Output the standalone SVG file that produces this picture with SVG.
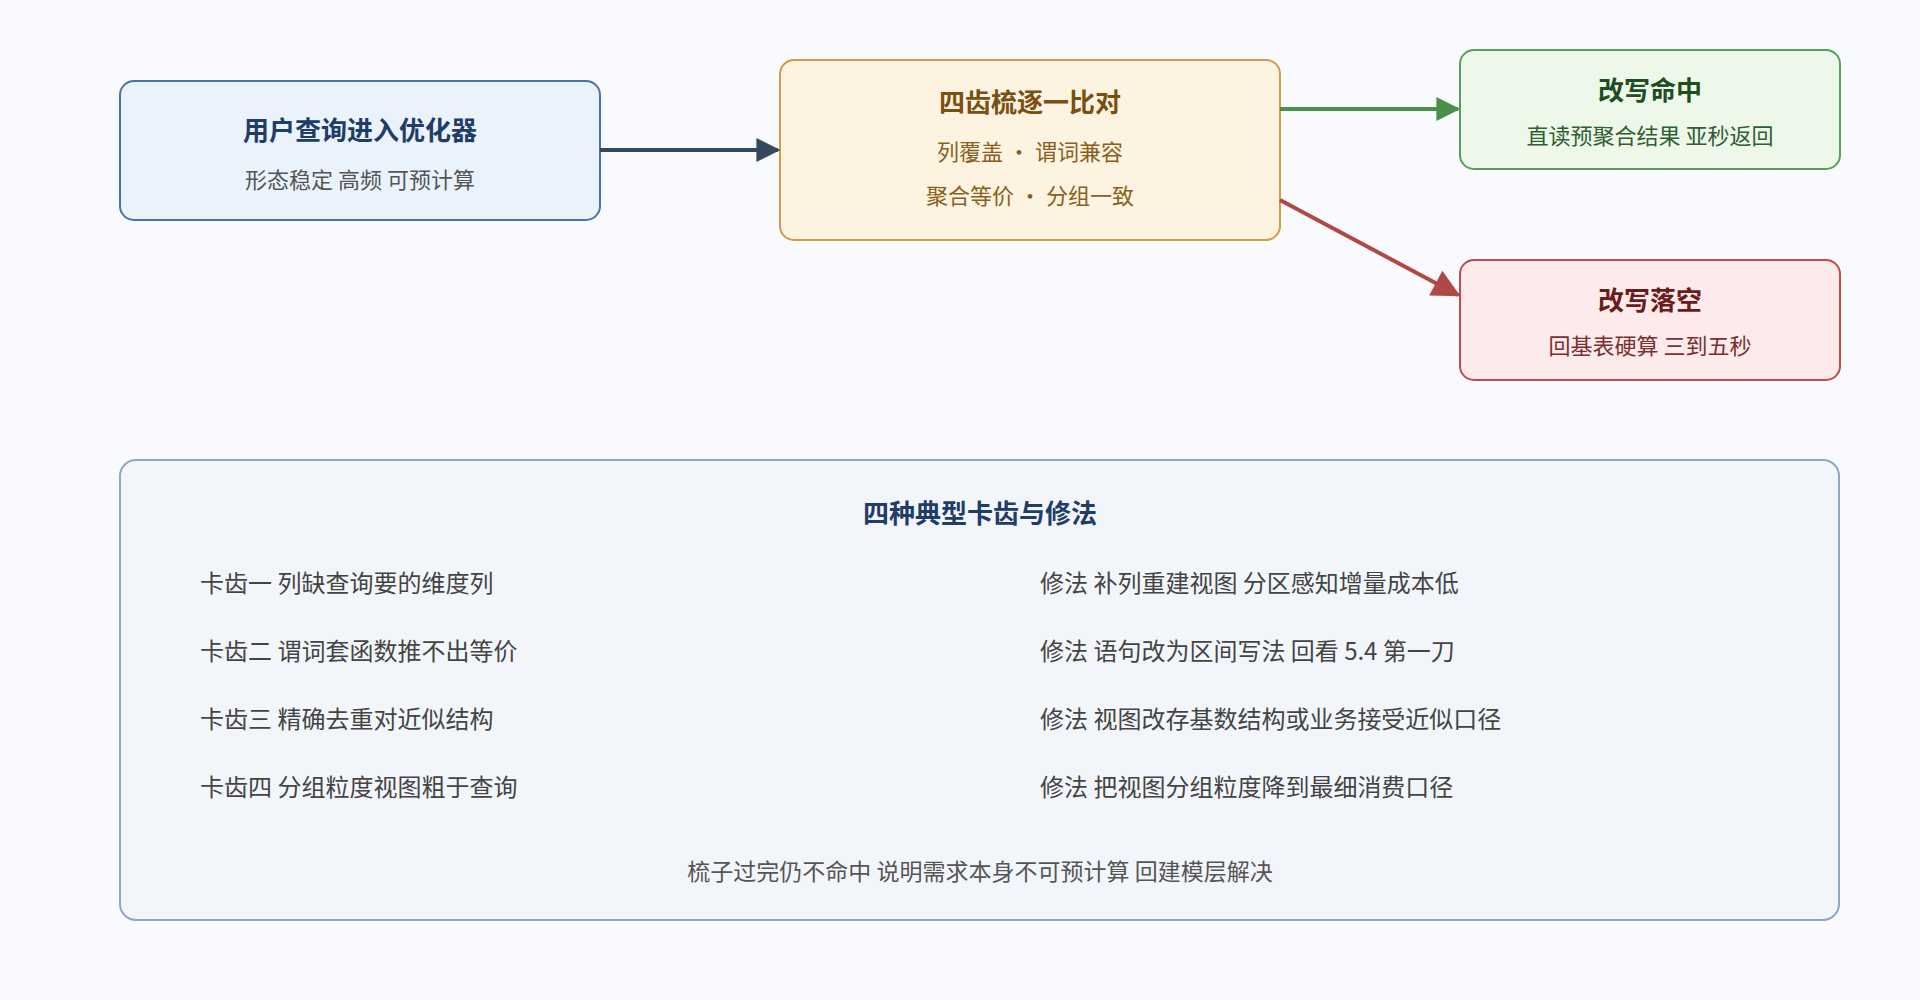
<svg xmlns="http://www.w3.org/2000/svg" width="1920" height="1000" viewBox="0 0 1920 1000">
<defs>
<style>
text{font-family:"Noto Sans CJK SC","Noto Sans",sans-serif;text-anchor:middle}
.t{font-size:26px;font-weight:bold}
.s{font-size:22px}
.r{font-size:24px;fill:#444;text-anchor:start}
</style>
<marker id="aB" markerWidth="10" markerHeight="10" refX="9" refY="5" orient="auto" markerUnits="userSpaceOnUse" viewBox="0 0 10 10"><path d="M0,0L10,5L0,10z" fill="#34495e"/></marker>
<marker id="aG" viewBox="0 0 10 10" markerWidth="28" markerHeight="24" refX="9" refY="5" orient="auto" markerUnits="userSpaceOnUse"><path d="M0,0L10,5L0,10z" fill="#4a8f4a"/></marker>
<marker id="aR" viewBox="0 0 10 10" markerWidth="32" markerHeight="28" refX="9" refY="5" orient="auto" markerUnits="userSpaceOnUse"><path d="M0,0L10,5L0,10z" fill="#b04848"/></marker>
<marker id="aN" viewBox="0 0 10 10" markerWidth="28" markerHeight="24" refX="9" refY="5" orient="auto" markerUnits="userSpaceOnUse"><path d="M0,0L10,5L0,10z" fill="#34495e"/></marker>
</defs>
<rect width="1920" height="1000" fill="#f8fafd"/>
<g id="n1"><rect x="120" y="81" width="480" height="139" rx="14" fill="#eaf2fc" stroke="#4a73a8" stroke-width="2"/>
<text x="360" y="140" class="t" fill="#1f3d66">用户查询进入优化器</text><text x="360" y="188" class="s" fill="#555">形态稳定 高频 可预计算</text></g>
<g id="n2"><rect x="780" y="60" width="500" height="180" rx="14" fill="#fdf3e1" stroke="#d49a45" stroke-width="2"/>
<text x="1030" y="112" class="t" fill="#7a4f10">四齿梳逐一比对</text><text x="1030" y="160" class="s" fill="#8a6020">列覆盖 · 谓词兼容</text><text x="1030" y="204" class="s" fill="#8a6020">聚合等价 · 分组一致</text></g>
<g id="n3"><rect x="1460" y="50" width="380" height="119" rx="14" fill="#edf7ea" stroke="#5b9e5b" stroke-width="2"/>
<text x="1650" y="100" class="t" fill="#1e4d1e">改写命中</text><text x="1650" y="144" class="s" fill="#2f5f2f">直读预聚合结果 亚秒返回</text></g>
<g id="n4"><rect x="1460" y="260" width="380" height="120" rx="14" fill="#fdeaea" stroke="#c24a4a" stroke-width="2"/>
<text x="1650" y="310" class="t" fill="#6a1c1c">改写落空</text><text x="1650" y="354" class="s" fill="#7a3030">回基表硬算 三到五秒</text></g>
<g id="connectors" fill="none" stroke-width="4">
<line x1="600" y1="150" x2="778" y2="150" stroke="#34495e" marker-end="url(#aN)"/>
<line x1="1280" y1="109" x2="1458" y2="109" stroke="#4a8f4a" marker-end="url(#aG)"/>
<line x1="1280" y1="200" x2="1458" y2="295" stroke="#b04848" marker-end="url(#aR)"/>
</g>
<g id="panel"><rect x="120" y="460" width="1719" height="460" rx="16" fill="#f2f6fb" stroke="#8ea6c8" stroke-width="2"/>
<text x="980" y="523" class="t" fill="#1f3d66">四种典型卡齿与修法</text>
<text x="200" y="592" class="r">卡齿一 列缺查询要的维度列</text>
<text x="200" y="660" class="r">卡齿二 谓词套函数推不出等价</text>
<text x="200" y="728" class="r">卡齿三 精确去重对近似结构</text>
<text x="200" y="796" class="r">卡齿四 分组粒度视图粗于查询</text>
<text x="1040" y="592" class="r">修法 补列重建视图 分区感知增量成本低</text>
<text x="1040" y="660" class="r">修法 语句改为区间写法 回看 5.4 第一刀</text>
<text x="1040" y="728" class="r">修法 视图改存基数结构或业务接受近似口径</text>
<text x="1040" y="796" class="r">修法 把视图分组粒度降到最细消费口径</text>
<text x="980" y="880" class="s" fill="#555" style="font-size:23px">梳子过完仍不命中 说明需求本身不可预计算 回建模层解决</text></g>
</svg>
